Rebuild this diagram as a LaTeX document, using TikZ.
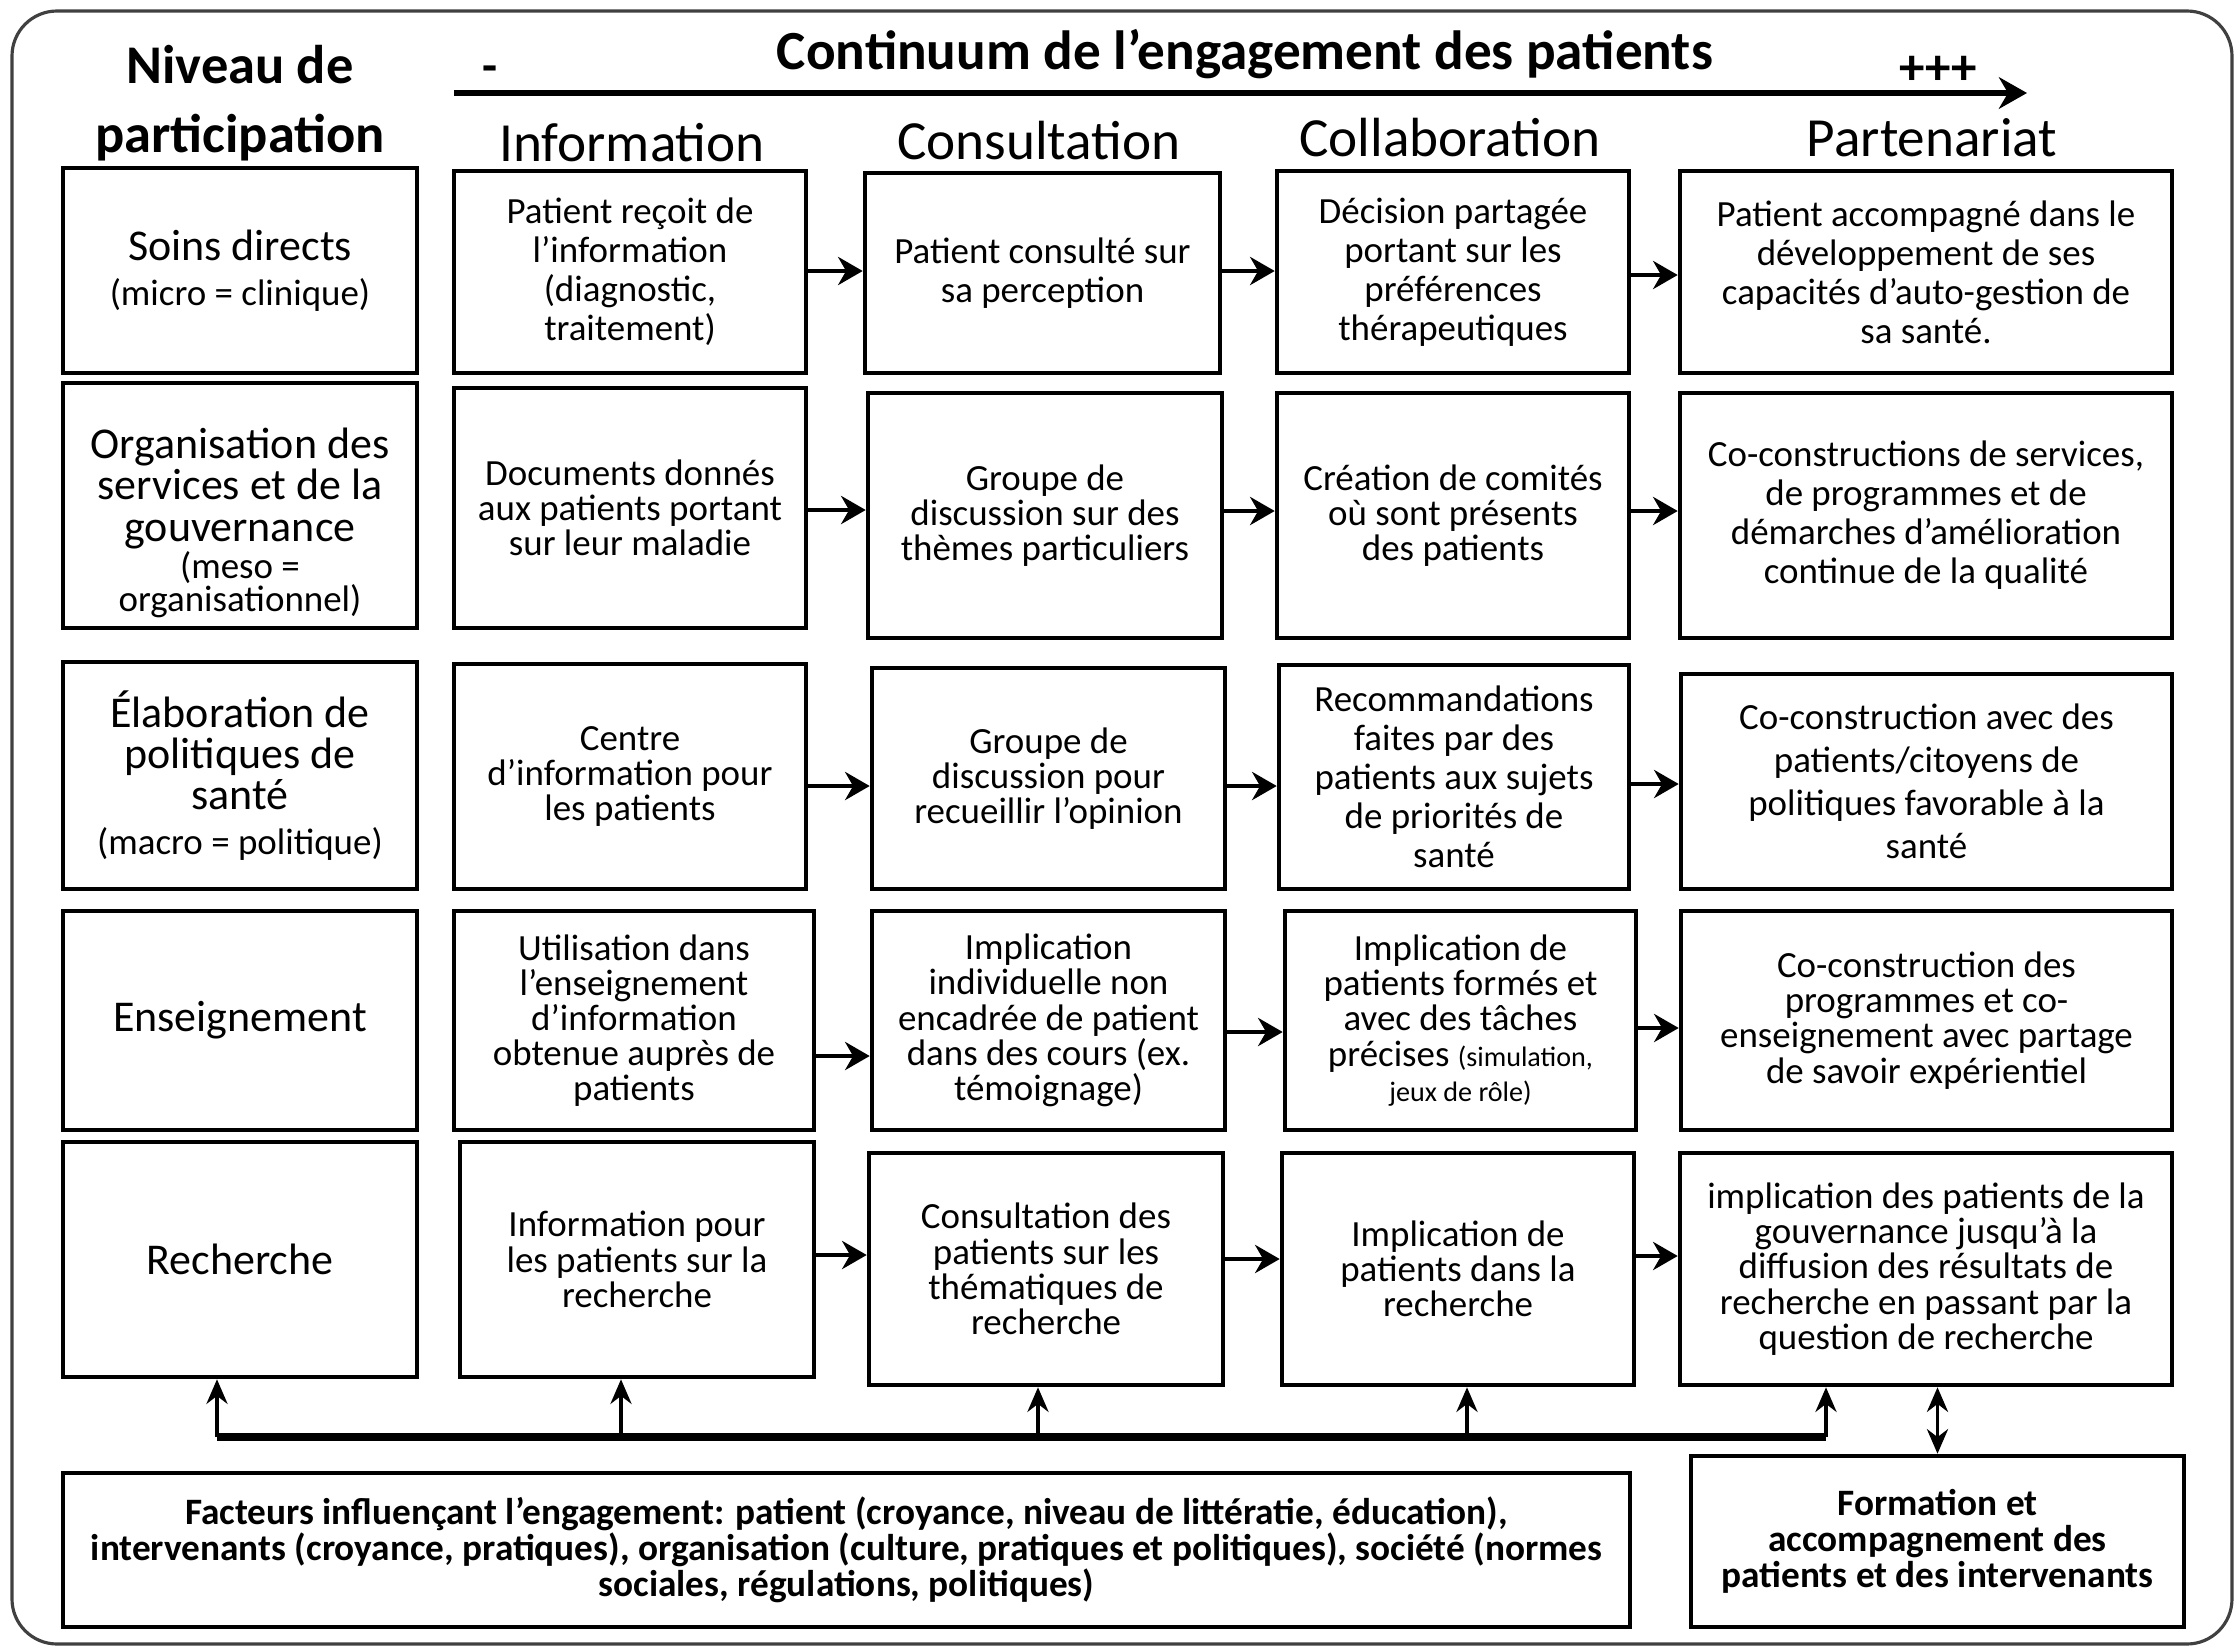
\documentclass[tikz,border=0pt]{standalone}
\usepackage{fontspec}
\setmainfont{Carlito}
\usetikzlibrary{arrows.meta}
\newcommand\mkbox[7][]{%
  \pgfmathsetmacro\mybw{(#5-#3)*0.01}%
  \pgfmathsetmacro\mybh{(#6-#4)*0.01}%
  \node[cell,minimum width=\mybw cm,minimum height=\mybh cm,#1] (#2) at ({(#3+#5)/2},{(#4+#6)/2}) {#7};}
\tikzset{
  cell/.style={draw, line width=1.3pt, inner sep=0pt, align=center, font=\fontsize{10.5}{10}\selectfont},
  loose/.style={font=\fontsize{10.5}{11.1}\selectfont},
  vloose/.style={font=\fontsize{10.5}{12.2}\selectfont},
  lvl/.style={font=\fontsize{12.5}{11.7}\selectfont},
  bottomtxt/.style={font=\fontsize{10.6}{10.2}\selectfont\bfseries},
  header/.style={font=\fontsize{15.7}{18}\selectfont},
  harr/.style={line width=1.3pt, -{Stealth[length=7pt,width=8pt]}},
  varr/.style={line width=1pt, -{Stealth[length=7pt,width=6pt]}},
  darr/.style={line width=1pt, {Stealth[length=7pt,width=6pt]}-{Stealth[length=7pt,width=6pt]}},
}
\begin{document}
\begin{tikzpicture}[x=0.01cm,y=-0.01cm]
\useasboundingbox (0,0) rectangle (2238,1648);
% outer frame
\draw[line width=0.9pt, black!75, rounded corners=0.45cm] (12,11) rectangle (2232,1644);

% title and continuum arrow
\node[font=\fontsize{15.7}{18}\selectfont\bfseries] (title) at (1245,54) {Continuum de l’engagement des patients};
\node[font=\fontsize{14}{16}\selectfont\bfseries] (minus) at (490,74) {-};
\node[font=\fontsize{14.5}{16}\selectfont\bfseries] (plus) at (1938,70) {+++};
\coordinate (cs) at (454,93);
\coordinate (ce) at (2027,93);
\draw[line width=1.5pt, -{Stealth[length=8pt,width=9pt]}] (cs) -- (ce);

\node[align=center, font=\fontsize{15.5}{19.6}\selectfont\bfseries] (niv) at (240,103) {Niveau de\\participation};
\node[header] (h1) at (632,143) {Information};
\node[header] (h2) at (1039,141) {Consultation};
\node[header] (h3) at (1450,138) {Collaboration};
\node[header] (h4) at (1932,138) {Partenariat};

% level column
\mkbox[lvl]{L1}{63}{168}{417}{373}{Soins directs\\[1pt]{\fontsize{10.5}{10}\selectfont (micro = clinique)}}
\mkbox[lvl]{L2}{63}{383}{417}{628}{}
\node[lvl, align=center, inner sep=0pt] (L2t) at (L2.center |- 0,523) {Organisation des\\services et de la\\gouvernance\\[-1pt]{\fontsize{10.5}{10}\selectfont (meso =}\\[-2.4pt]{\fontsize{10.5}{10}\selectfont organisationnel)}};
\mkbox[lvl]{L3}{63}{662}{417}{889}{Élaboration de\\politiques de\\santé\\[1pt]{\fontsize{10.5}{10}\selectfont (macro = politique)}}
\mkbox[lvl]{L4}{63}{911}{417}{1130}{Enseignement}
\mkbox[lvl]{L5}{63}{1142}{417}{1377}{Recherche}

% Information column
\mkbox[loose]{r1c1}{454}{171}{806}{373}{Patient reçoit de\\l’information\\(diagnostic,\\traitement)}
\mkbox{r2c1}{454}{388}{806}{628}{Documents donnés\\aux patients portant\\sur leur maladie}
\mkbox{r3c1}{454}{664}{806}{889}{Centre\\d’information pour\\les patients}
\mkbox{r4c1}{454}{911}{814}{1130}{Utilisation dans\\l’enseignement\\d’information\\obtenue auprès de\\patients}
\mkbox{r5c1}{460}{1142}{814}{1377}{Information pour\\les patients sur la\\recherche}

% Consultation column
\mkbox[loose]{r1c2}{865}{173}{1220}{373}{Patient consulté sur\\sa perception}
\mkbox{r2c2}{868}{393}{1222}{638}{Groupe de\\discussion sur des\\thèmes particuliers}
\mkbox{r3c2}{872}{668}{1225}{889}{Groupe de\\discussion pour\\recueillir l’opinion}
\mkbox{r4c2}{872}{911}{1225}{1130}{Implication\\individuelle non\\encadrée de patient\\dans des cours (ex.\\témoignage)}
\mkbox{r5c2}{869}{1153}{1223}{1385}{Consultation des\\patients sur les\\thématiques de\\recherche}

% Collaboration column
\mkbox[loose]{r1c3}{1277}{171}{1629}{373}{Décision partagée\\portant sur les\\préférences\\thérapeutiques}
\mkbox{r2c3}{1277}{393}{1629}{638}{Création de comités\\où sont présents\\des patients}
\mkbox[loose]{r3c3}{1279}{665}{1629}{889}{Recommandations\\faites par des\\patients aux sujets\\de priorités de\\santé}
\mkbox{r4c3}{1285}{911}{1636}{1130}{Implication de\\patients formés et\\avec des tâches\\précises {\fontsize{8}{9}\selectfont(simulation,}\\{\fontsize{8}{9}\selectfont jeux de rôle)}}
\mkbox{r5c3}{1282}{1153}{1634}{1385}{Implication de\\patients dans la\\recherche}

% Partenariat column
\mkbox[loose]{r1c4}{1680}{171}{2172}{373}{Patient accompagné dans le\\développement de ses\\capacités d’auto-gestion de\\sa santé.}
\mkbox[loose]{r2c4}{1680}{393}{2172}{638}{Co-constructions de services,\\de programmes et de\\démarches d’amélioration\\continue de la qualité}
\mkbox[vloose]{r3c4}{1681}{674}{2172}{889}{Co-construction avec des\\patients/citoyens de\\politiques favorable à la\\santé}
\mkbox{r4c4}{1681}{911}{2172}{1130}{Co-construction des\\programmes et co-\\enseignement avec partage\\de savoir expérientiel}
\mkbox{r5c4}{1680}{1153}{2172}{1385}{implication des patients de la\\gouvernance jusqu’à la\\diffusion des résultats de\\recherche en passant par la\\question de recherche}

% bottom boxes
\mkbox[bottomtxt]{fact}{63}{1473}{1630}{1627}{Facteurs influençant l’engagement: patient (croyance, niveau de littératie, éducation),\\intervenants (croyance, pratiques), organisation (culture, pratiques et politiques), société (normes\\sociales, régulations, politiques)}
\mkbox[bottomtxt]{form}{1691}{1456}{2184}{1627}{Formation et\\accompagnement des\\patients et des intervenants}

% horizontal arrows
\draw[harr] (r1c1.east |- 0,271) -- (r1c2.west |- 0,271);
\draw[harr] (r1c2.east |- 0,271) -- (r1c3.west |- 0,271);
\draw[harr] (r1c3.east |- 0,275) -- (r1c4.west |- 0,275);
\draw[harr] (r2c1.east |- 0,510) -- (r2c2.west |- 0,510);
\draw[harr] (r2c2.east |- 0,511) -- (r2c3.west |- 0,511);
\draw[harr] (r2c3.east |- 0,511) -- (r2c4.west |- 0,511);
\draw[harr] (r3c1.east |- 0,786) -- (r3c2.west |- 0,786);
\draw[harr] (r3c2.east |- 0,786) -- (r3c3.west |- 0,786);
\draw[harr] (r3c3.east |- 0,784) -- (r3c4.west |- 0,784);
\draw[harr] (r4c1.east |- 0,1056) -- (r4c2.west |- 0,1056);
\draw[harr] (r4c2.east |- 0,1032) -- (r4c3.west |- 0,1032);
\draw[harr] (r4c3.east |- 0,1028) -- (r4c4.west |- 0,1028);
\draw[harr] (r5c1.east |- 0,1255) -- (r5c2.west |- 0,1255);
\draw[harr] (r5c2.east |- 0,1259) -- (r5c3.west |- 0,1259);
\draw[harr] (r5c3.east |- 0,1256) -- (r5c4.west |- 0,1256);

% bus with upward arrows
\coordinate (b0) at (217,1437);
\coordinate (b1) at (621,1437);
\coordinate (b2) at (1038,1437);
\coordinate (b3) at (1467,1437);
\coordinate (b4) at (1826,1437);
\draw[line width=2pt] (b0) -- (b4);
\draw[varr] (b0) -- (b0 |- L5.south);
\draw[varr] (b1) -- (b1 |- r5c1.south);
\draw[varr] (b2) -- (b2 |- r5c2.south);
\draw[varr] (b3) -- (b3 |- r5c3.south);
\draw[varr] (b4) -- (b4 |- r5c4.south);
\draw[darr] (form.north) -- (form.north |- r5c4.south);
\end{tikzpicture}
\end{document}
